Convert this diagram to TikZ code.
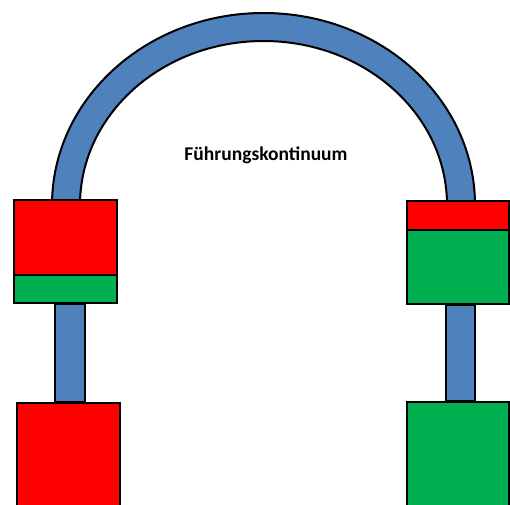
\documentclass[tikz,border=0pt]{standalone}
\usepackage{fontspec}
\setmainfont{Carlito}
\definecolor{archblue}{RGB}{79,129,189}
\definecolor{stopred}{RGB}{255,0,0}
\definecolor{gogreen}{RGB}{0,176,80}
\usetikzlibrary{positioning}

\begin{document}
\begin{tikzpicture}[x=1pt,y=1pt,
    part/.style={draw=black,line width=2pt},
    bar/.style={part,fill=archblue},
    block/.style={part,rectangle,minimum width=103pt,minimum height=103pt,inner sep=0pt}
]
    \useasboundingbox (0,0) rectangle (510,504);
    \clip (0,0) rectangle (510,504);
    % arch
    \draw[bar] (52,290) -- (52,299) arc[start angle=180,end angle=0,x radius=211.5,y radius=192]
        -- (475,290) -- (447,290) -- (447,299) arc[start angle=0,end angle=180,x radius=183.5,y radius=164] -- cycle;
    \node[font=\bfseries\fontsize{19.5}{22}\selectfont] (label) at (266,349) {Führungskontinuum};

    % upper boxes
    \node[block,fill=stopred] (ul) at (65.5,252.5) {};
    \node[block,fill=gogreen,minimum height=28pt,anchor=south] (ulg) at (ul.south) {};
    \node[block,fill=gogreen,minimum width=101.5pt] (ur) at (457.75,251.5) {};
    \node[block,fill=stopred,minimum width=101.5pt,minimum height=29pt,anchor=north] (urr) at (ur.north) {};

    % lower boxes
    \node[block,fill=stopred,minimum height=108pt] (ll) at (68.5,47) {};
    \node[block,fill=gogreen,minimum width=101.5pt,minimum height=108pt] (lr) at (457.75,48) {};

    % bars
    \draw[bar] (ul.south -| 55,0) rectangle (ll.north -| 85,0);
    \draw[bar] (ur.south -| 446,0) rectangle (lr.north -| 475,0);
\end{tikzpicture}
\end{document}
